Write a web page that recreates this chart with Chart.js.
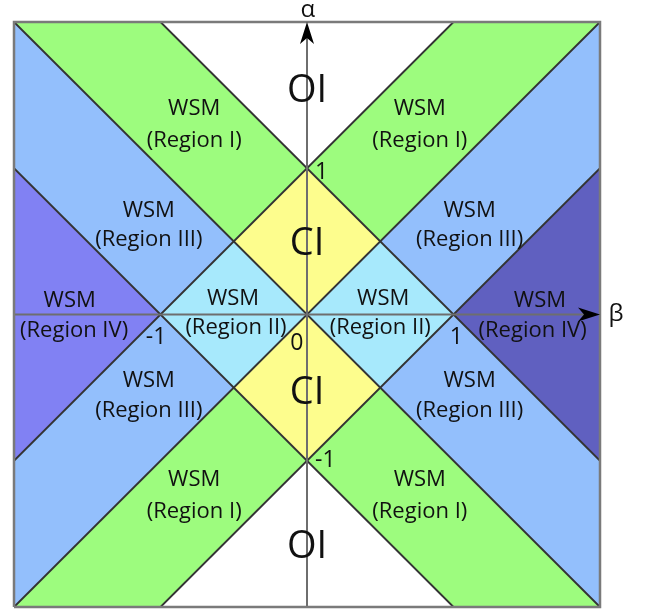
<!DOCTYPE html>
<html>
<head>
<meta charset="utf-8">
<script src="https://cdn.jsdelivr.net/npm/chart.js@4.4.1/dist/chart.umd.min.js"></script>
<style>
html,body{margin:0;padding:0;background:#fff;}
#wrap{width:652px;height:614px;position:relative;}
</style>
</head>
<body>
<div id="wrap"><canvas id="c" width="652" height="614"></canvas></div>
<script>
// Region polygons (beta, alpha vertices)
const regionOI_top = [[-1,2],[1,2],[0,1]];
const regionOI_bot = [[-1,-2],[1,-2],[0,-1]];
const regionI_UL = [[-2,2],[-1,2],[0,1],[-0.5,0.5]];
const regionI_UR = [[2,2],[1,2],[0,1],[0.5,0.5]];
const regionI_LL = [[-2,-2],[-1,-2],[0,-1],[-0.5,-0.5]];
const regionI_LR = [[2,-2],[1,-2],[0,-1],[0.5,-0.5]];
const regionIII_UL = [[-2,2],[-0.5,0.5],[-1,0],[-2,1]];
const regionIII_UR = [[2,2],[0.5,0.5],[1,0],[2,1]];
const regionIII_LL = [[-2,-2],[-0.5,-0.5],[-1,0],[-2,-1]];
const regionIII_LR = [[2,-2],[0.5,-0.5],[1,0],[2,-1]];
const regionIV_L = [[-2,1],[-1,0],[-2,-1]];
const regionIV_R = [[2,1],[1,0],[2,-1]];
const regionII_L = [[-1,0],[-0.5,0.5],[0,0],[-0.5,-0.5]];
const regionII_R = [[1,0],[0.5,0.5],[0,0],[0.5,-0.5]];
const regionCI_top = [[0,0],[-0.5,0.5],[0,1],[0.5,0.5]];
const regionCI_bot = [[0,0],[-0.5,-0.5],[0,-1],[0.5,-0.5]];

// Phase boundary lines (endpoints)
const boundaryLines = [
  [[-2,2],[2,-2]], [[-2,-2],[2,2]],
  [[-2,-1],[1,2]], [[-1,2],[2,-1]],
  [[-2,1],[1,-2]], [[-1,-2],[2,1]]
];
const axisBeta = [[-2,0],[1.95,0]];
const axisAlpha = [[0,-2],[0,1.95]];
const arrowTips = [[0,2],[2,0]];
const frame = [[-2,-2],[2,-2],[2,2],[-2,2],[-2,-2]];

// Text labels
const labelText = ['WSM','(Region I)','WSM','(Region I)',
  'WSM','(Region III)','WSM','(Region III)',
  'WSM','(Region IV)','WSM','(Region IV)',
  'WSM','(Region II)','WSM','(Region II)',
  'WSM','(Region III)','WSM','(Region III)',
  'WSM','(Region I)','WSM','(Region I)'];
const labelBeta = [-0.77,-0.77,0.77,0.77,
  -1.08,-1.08,1.11,1.11,
  -1.62,-1.59,1.59,1.54,
  -0.505,-0.485,0.52,0.5,
  -1.08,-1.08,1.11,1.11,
  -0.77,-0.77,0.77,0.77];
const labelAlpha = [1.41,1.19,1.41,1.19,
  0.71,0.51,0.71,0.51,
  0.095,-0.11,0.095,-0.11,
  0.11,-0.09,0.11,-0.09,
  -0.455,-0.655,-0.455,-0.655,
  -1.13,-1.35,-1.13,-1.35];
const phaseText = ['OI','CI','CI','OI'];
const phaseBeta = [0,0,0,0];
const phaseAlpha = [1.53,0.48,-0.54,-1.59];
const tickText = ['1','-1','0','1','-1'];
const tickBeta = [0.1,-1.03,-0.07,1.02,0.125];
const tickAlpha = [0.97,-0.16,-0.2,-0.16,-1.0];
const axisNames = ['α','β'];
const axisNameBeta = [0.005,2.11];
const axisNameAlpha = [2.08,0];

const pts = arr => arr.map(p => ({x:p[0], y:p[1]}));
const closed = arr => pts(arr.concat([arr[0]]));

const GREEN='#9dfc7e', LBLUE='#93bffc', CYAN='#a7e9fc', YELLOW='#fdfd8d', IVL='#8181f3', IVR='#6060c0';

const polys = [
  [regionOI_top,'#ffffff'],[regionOI_bot,'#ffffff'],
  [regionI_UL,GREEN],[regionI_UR,GREEN],[regionI_LL,GREEN],[regionI_LR,GREEN],
  [regionIII_UL,LBLUE],[regionIII_UR,LBLUE],[regionIII_LL,LBLUE],[regionIII_LR,LBLUE],
  [regionIV_L,IVL],[regionIV_R,IVR],
  [regionII_L,CYAN],[regionII_R,CYAN],
  [regionCI_top,YELLOW],[regionCI_bot,YELLOW]
];

const datasets = [];
polys.forEach(([poly,col]) => datasets.push({
  data: closed(poly), showLine:true, fill:'shape', backgroundColor:col,
  borderColor:col, borderWidth:1, pointRadius:0, order:10, clip:false, tension:0
}));
boundaryLines.forEach(l => datasets.push({
  data: pts(l), showLine:true, fill:false, borderColor:'#333333', borderWidth:1.8,
  pointRadius:0, order:6, clip:false
}));
datasets.push({data: pts(axisBeta), showLine:true, fill:false, borderColor:'#6e6e6e', borderWidth:2, pointRadius:0, order:4, clip:false});
datasets.push({data: pts(axisAlpha), showLine:true, fill:false, borderColor:'#6e6e6e', borderWidth:2, pointRadius:0, order:4, clip:false});
datasets.push({data: pts(frame), showLine:true, fill:false, borderColor:'#7a7a7a', borderWidth:2.5, pointRadius:0, order:3, clip:false});

const FONT = '"Open Sans", "DejaVu Sans", sans-serif';
const textPlugin = {
  id:'texts',
  afterDatasetsDraw(chart){
    const ctx = chart.ctx, xs = chart.scales.x, ys = chart.scales.y;
    ctx.save();
    // arrowheads (stealth style), tips at axis ends
    ctx.fillStyle = '#000';
    arrowTips.forEach((t,i) => {
      const px = xs.getPixelForValue(t[0]), py = ys.getPixelForValue(t[1]);
      ctx.save();
      ctx.translate(px, py);
      ctx.rotate(i === 0 ? 0 : Math.PI/2);
      ctx.beginPath();
      ctx.moveTo(0, 0);
      ctx.lineTo(7, 22);
      ctx.lineTo(0, 16);
      ctx.lineTo(-7, 22);
      ctx.closePath();
      ctx.fill();
      ctx.restore();
    });
    ctx.textAlign='center'; ctx.textBaseline='middle'; ctx.fillStyle='#111';
    ctx.font = '22px ' + FONT;
    labelText.forEach((t,i)=>ctx.fillText(t, xs.getPixelForValue(labelBeta[i]), ys.getPixelForValue(labelAlpha[i])));
    ctx.font = '38px ' + FONT;
    phaseText.forEach((t,i)=>ctx.fillText(t, xs.getPixelForValue(phaseBeta[i]), ys.getPixelForValue(phaseAlpha[i])));
    ctx.font = '23px ' + FONT;
    tickText.forEach((t,i)=>ctx.fillText(t, xs.getPixelForValue(tickBeta[i]), ys.getPixelForValue(tickAlpha[i])));
    ctx.font = '24px ' + FONT;
    axisNames.forEach((t,i)=>ctx.fillText(t, xs.getPixelForValue(axisNameBeta[i]), ys.getPixelForValue(axisNameAlpha[i])));
    ctx.restore();
  }
};

new Chart(document.getElementById('c'), {
  type:'scatter',
  data:{datasets},
  options:{
    responsive:false, animation:false,
    layout:{padding:{left:14,right:52,top:22,bottom:7}},
    plugins:{legend:{display:false}, tooltip:{enabled:false}},
    scales:{
      x:{type:'linear', min:-2, max:2, display:false},
      y:{type:'linear', min:-2, max:2, display:false}
    }
  },
  plugins:[textPlugin]
});
</script>
</body>
</html>
